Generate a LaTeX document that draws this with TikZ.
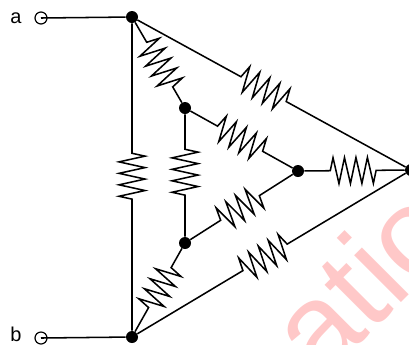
\documentclass[tikz,border=0pt]{standalone}
\usepackage{fontspec}
\setmainfont{Liberation Sans}
\usetikzlibrary{decorations.pathmorphing}
\definecolor{markpink}{HTML}{FFC8C8}
\begin{document}
\begin{tikzpicture}[x=0.75pt,y=-0.75pt,
  dot/.style={circle,fill=black,inner sep=0pt,minimum size=9pt},
  terminal/.style={circle,draw,line width=0.9pt,inner sep=0pt,minimum size=9pt},
  wire/.style={line width=1.15pt},
  res/.style 2 args={line width=1.15pt,decorate,decoration={zigzag,segment length=8.6pt,amplitude=9.75pt,pre length=#1*0.75pt,post length=#2*0.75pt}},
  lab/.style={anchor=base,font=\fontsize{15pt}{15pt}\selectfont}]
\useasboundingbox (0,0) rectangle (409,344);
\clip (0,0) rectangle (409,344);
\node [rotate=45,text=markpink,anchor=base west,inner sep=0pt,font=\fontsize{94pt}{94pt}\selectfont] (mark) at (321,383) {atio};
\node [dot] (A) at (132,17) {};
\node [dot] (B) at (132,337) {};
\node [dot] (C) at (411,170) {};
\node [dot] (P) at (185,108) {};
\node [dot] (Q) at (185,243) {};
\node [dot] (R) at (298,171) {};
\node [terminal] (ta) at (41,18) {};
\node [terminal] (tb) at (41,338) {};
\node [lab] (la) at (16,23) {a};
\node [lab] (lb) at (16,341) {b};
\draw [wire] (ta.center) -- (A);
\draw [wire] (tb.center) -- (B);
\draw [res={130}{128}] (A) -- (B);
\draw [res={35}{40}] (P) -- (Q);
\draw [res={118}{135}] (A) -- (C);
\draw [res={123}{138}] (B) -- (C);
\draw [res={23}{17}] (A) -- (P);
\draw [res={22}{23}] (Q) -- (B);
\draw [res={31}{32}] (P) -- (R);
\draw [res={36}{35}] (Q) -- (R);
\draw [res={26}{26}] (R) -- (C);
\end{tikzpicture}
\end{document}
